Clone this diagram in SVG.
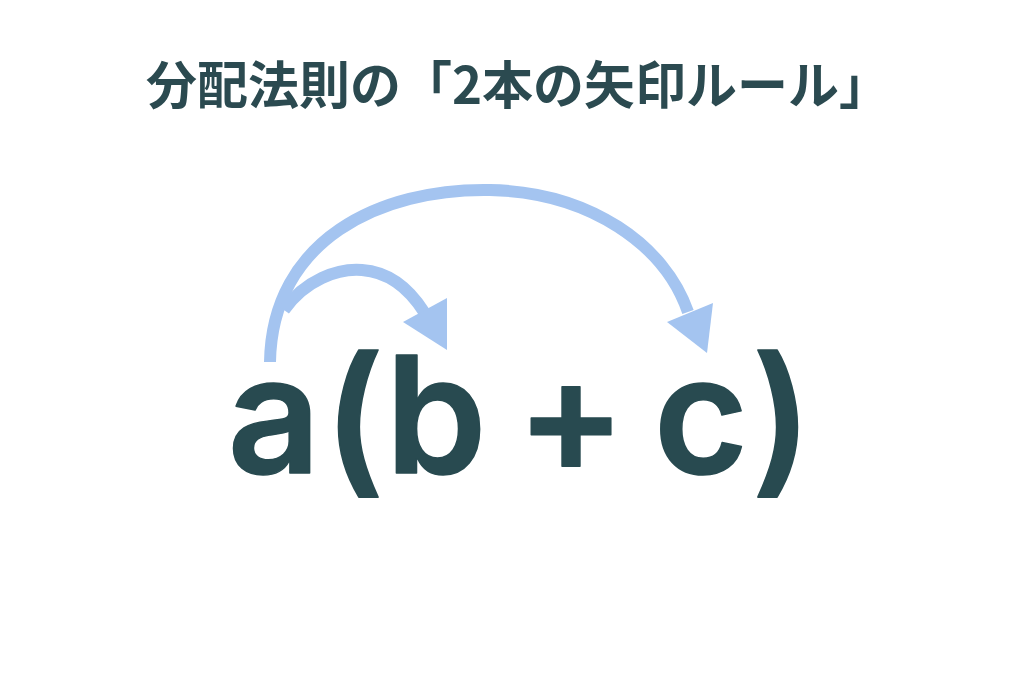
<svg xmlns="http://www.w3.org/2000/svg" width="1024" height="683" viewBox="0 0 1024 683">
<style>
.title{font-family:"Noto Sans CJK JP","Noto Sans",sans-serif;font-weight:700;font-size:51px;fill:#2b4a50}
.f{font-family:Inter,"Open Sans",sans-serif;font-weight:600;font-size:162px;fill:#284a50;stroke:#284a50;stroke-width:1.5;stroke-linejoin:round;text-anchor:middle}
.arc{fill:none;stroke:#a4c4f0;stroke-width:12}
.head{fill:#a4c4f0}
</style>
<rect width="1024" height="683" fill="#ffffff"/>
<g id="title"><text class="title" x="518" y="104" text-anchor="middle">分配法則の「2本の矢印ルール」</text></g>
<g id="formula">
<text class="f" x="274" y="473">a</text>
<text class="f" x="354" y="475">(</text>
<text class="f" x="436" y="473">b</text>
<text class="f" x="571" y="473">+</text>
<text class="f" x="701" y="473">c</text>
<text class="f" x="782" y="475">)</text>
</g>
<g id="connectors">
<path class="arc" d="M270 362 C272 240 380 188 490 190 C590 192 665 245 688 312"/>
<polygon class="head" points="713,303 707,353 667,322"/>
<path class="arc" d="M284 310 C305 280 338 268 362 270 C390 272 410 290 424 312"/>
<polygon class="head" points="447,298 447,350 403,322"/>
</g>
</svg>
